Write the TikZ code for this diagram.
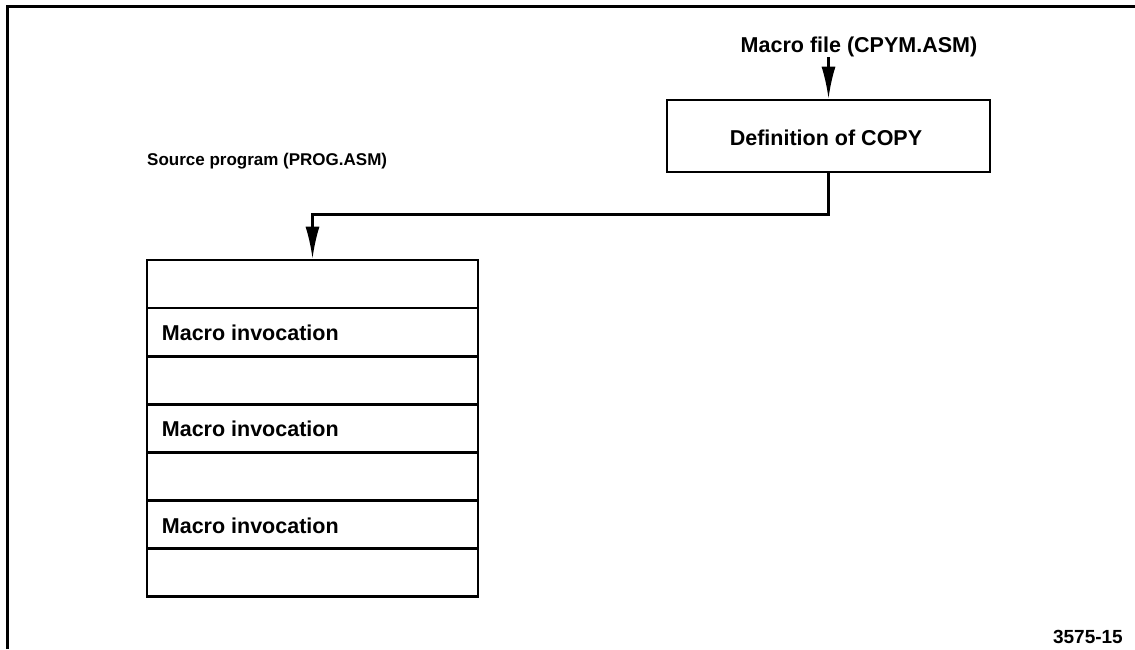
\documentclass[tikz,border=0pt]{standalone}
\usepackage{fontspec}
\setmainfont{Liberation Sans}
\usetikzlibrary{arrows.meta,calc}
\begin{document}
\begin{tikzpicture}[x=1pt,y=-1pt,
  frame/.style={line width=3pt},
  box/.style={draw,line width=2.6pt,rectangle,inner sep=0pt},
  rowbox/.style={box,minimum width=331pt,minimum height=48pt},
  lbl/.style={font=\bfseries\fontsize{21.5}{24}\selectfont,inner sep=0pt},
  smalllbl/.style={font=\bfseries\fontsize{17}{20}\selectfont,inner sep=0pt},
  flow/.style={line width=2.4pt,-{Latex[length=32pt,width=14pt]}}]
\useasboundingbox (0,0) rectangle (1135,649);
% open frame: top and left edges only
\draw[frame] (7,649) -- (7,6) -- (1135,6);

% macro file and its definition box
\node[lbl] (mfile) at (859,47) {Macro file (CPYM.ASM)};
\node[box,minimum width=323pt,minimum height=72pt] (def) at (828.5,136) {};
\node[lbl] at (826,138) {Definition of COPY};

% source program stack
\node[smalllbl,anchor=west] (src) at (147,161) {Source program (PROG.ASM)};
\foreach \i in {1,...,7} {
  \node[rowbox] (row\i) at (312.5,{260+48.1*(\i-1)+24}) {};
}
\foreach \i in {2,4,6} {
  \node[lbl,anchor=west] at ($(row\i.west)+(16,1)$) {Macro invocation};
}

% connectors
\coordinate (mfoot) at (mfile.south -| def.north);
\draw[flow] (mfoot) -- (def.north);
\draw[flow] (def.south) -- ++(0,41) -| (row1.north);

% figure number
\node[font=\bfseries\fontsize{19}{22}\selectfont,inner sep=0pt,anchor=east] (fig) at (1123,637) {3575-15};
\end{tikzpicture}
\end{document}
